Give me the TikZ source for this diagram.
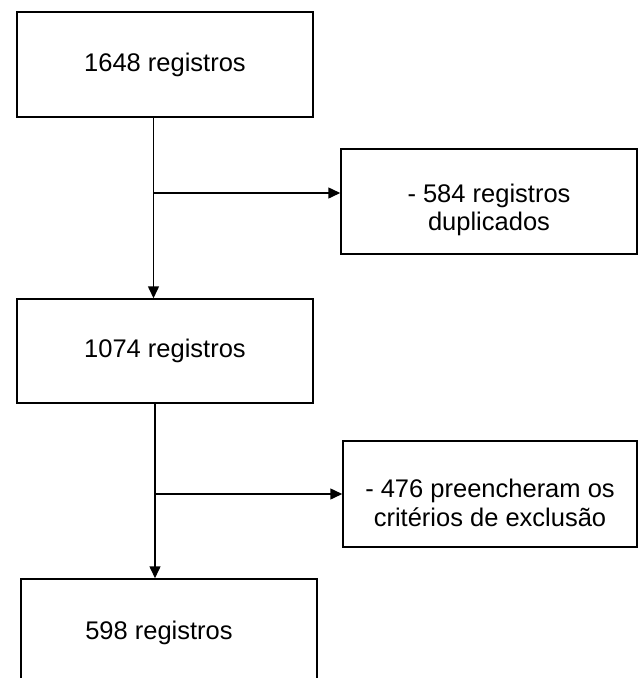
\documentclass[tikz,border=0pt]{standalone}
\usepackage{fontspec}
\setmainfont{Liberation Sans}
\usetikzlibrary{arrows.meta}
\begin{document}
\begin{tikzpicture}[x=1pt,y=-1pt,
  boxstyle/.style={draw,line width=1.5pt,minimum width=296pt,minimum height=105pt,inner sep=0pt,
    font=\fontsize{25.5}{28.5}\selectfont,align=center},
  txt/.style={inner sep=0pt,font=\fontsize{25.5}{28.5}\selectfont,align=center},
  arr/.style={line width=1.5pt,-{Triangle[length=12pt,width=11pt]}}]
\useasboundingbox (0,0) rectangle (638,678);
\node[boxstyle] (b1) at (165,64.5) {1648 registros};
\node[boxstyle] (s1) at (489,201.5) {};
\node[txt] (s1t) at (489,210) {- 584 registros\\duplicados};
\node[boxstyle,minimum height=104pt] (b2) at (165,351) {1074 registros};
\node[boxstyle,minimum width=294pt,minimum height=106pt] (s2) at (490,494) {};
\node[txt] (s2t) at (490,503) {- 476 preencheram os\\critérios de exclusão};
\node[boxstyle,minimum height=130pt] (b3) at (169,644) {};
\node[txt] (b3t) at (159,633) {598 registros};
\coordinate (j1) at (153.5,193);
\coordinate (j2) at (155,494);
\draw[arr] (b1.south -| j1) -- (b2.north -| j1);
\draw[arr] (j1) -- (j1 -| s1.west);
\draw[arr] (b2.south -| j2) -- (b3.north -| j2);
\draw[arr] (j2) -- (j2 -| s2.west);
\end{tikzpicture}
\end{document}
